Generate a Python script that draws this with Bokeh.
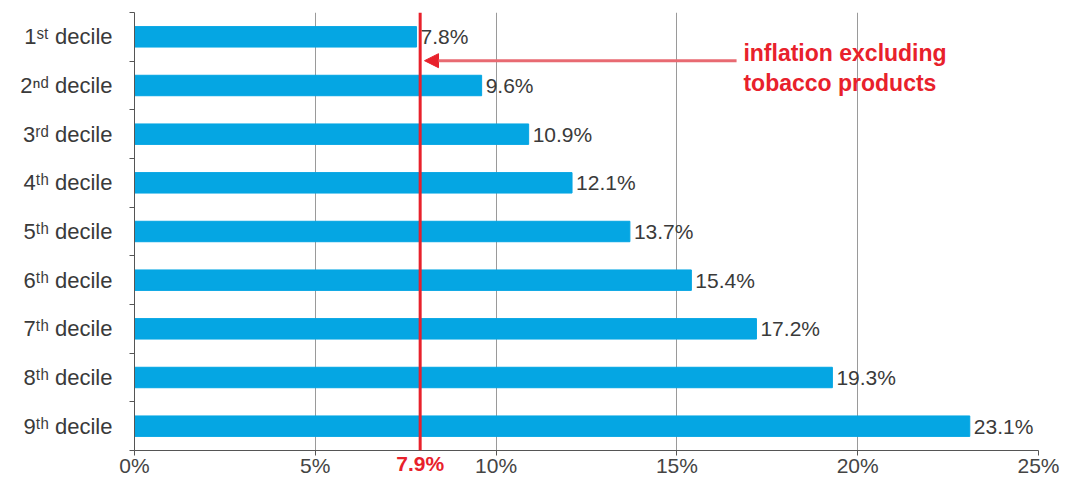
from bokeh.plotting import figure
from bokeh.models import (Range1d, FixedTicker, Label, Arrow, NormalHead, Span,
                          ColumnDataSource, LabelSet, LinearAxis)
from bokeh.core.properties import value
from bokeh.embed import file_html
from bokeh.resources import INLINE

categories = ["1ˢᵗ decile", "2ⁿᵈ decile", "3ʳᵈ decile", "4ᵗʰ decile", "5ᵗʰ decile",
              "6ᵗʰ decile", "7ᵗʰ decile", "8ᵗʰ decile", "9ᵗʰ decile"]
values = [7.8, 9.6, 10.9, 12.1, 13.7, 15.4, 17.2, 19.3, 23.1]
value_labels = ["7.8%", "9.6%", "10.9%", "12.1%", "13.7%", "15.4%", "17.2%", "19.3%", "23.1%"]
x_ticks = [0, 5, 10, 15, 20, 25]
x_tick_labels = ["0%", "5%", "10%", "15%", "20%", "25%"]
reference_value = 7.9
reference_label = "7.9%"
annotation_lines = ["inflation excluding", "tobacco products"]

FONT = "Liberation Sans"
RED = "#e8212b"
BLUE = "#05a6e3"
FS = "21px"

n = len(categories)
ypos = list(range(n))

p = figure(width=1064, height=482, output_backend="svg", toolbar_location=None,
           x_range=Range1d(0, 25), y_range=Range1d(n - 0.5, -0.5),
           min_border_left=134, min_border_right=26, min_border_top=12, min_border_bottom=32)
p.outline_line_color = None

src = ColumnDataSource(dict(y=ypos, v=values, lab=value_labels))
p.hbar(y="y", right="v", left=0, height=0.42, color=BLUE, source=src)

labels = LabelSet(x="v", y="y", text="lab", source=src, x_offset=4, y_offset=0,
                  text_font=value(FONT), text_font_size=FS, text_color="#3a3a3a",
                  text_baseline="middle", text_align="left")
p.add_layout(labels)

# x axis
p.xaxis.ticker = FixedTicker(ticks=x_ticks)
p.xaxis.major_label_overrides = {t: l for t, l in zip(x_ticks, x_tick_labels)}
p.xaxis.major_label_text_font = FONT
p.xaxis.major_label_text_font_size = FS
p.xaxis.major_label_text_color = "#444444"
p.xaxis.axis_line_color = "#555555"
p.xaxis.major_tick_line_color = "#555555"
p.xaxis.major_tick_out = 5
p.xaxis.major_tick_in = 0
p.xaxis.minor_tick_line_color = None
p.xaxis.major_label_standoff = -2

# red reference tick label on a second axis, pulled up to the same row
ref_axis = LinearAxis(ticker=FixedTicker(ticks=[reference_value]),
                      major_label_overrides={reference_value: reference_label},
                      axis_line_color=None, major_tick_line_color=None,
                      minor_tick_line_color=None, major_tick_out=0, major_tick_in=0,
                      major_label_text_font=FONT, major_label_text_font_size=FS,
                      major_label_text_font_style="bold", major_label_text_color=RED,
                      major_label_standoff=-28)
p.add_layout(ref_axis, "below")

# y axis
p.yaxis.ticker = FixedTicker(ticks=ypos, minor_ticks=[i - 0.5 for i in range(n + 1)])
p.yaxis.major_label_overrides = {i: c for i, c in zip(ypos, categories)}
p.yaxis.major_label_text_font = FONT
p.yaxis.major_label_text_font_size = "22px"
p.yaxis.major_label_text_color = "#3a3a3a"
p.yaxis.axis_line_color = "#555555"
p.yaxis.major_tick_line_color = None
p.yaxis.major_tick_out = 0
p.yaxis.minor_tick_line_color = "#555555"
p.yaxis.minor_tick_out = 5
p.yaxis.minor_tick_in = 0
p.yaxis.major_label_standoff = 17

# grid
p.xgrid.ticker = FixedTicker(ticks=x_ticks)
p.xgrid.grid_line_color = "#9a9a9a"
p.xgrid.grid_line_width = 1
p.ygrid.grid_line_color = None

# reference line
p.add_layout(Span(location=reference_value, dimension="height", line_color=RED, line_width=3))

# annotation
p.add_layout(Arrow(end=NormalHead(size=14, fill_color=RED, line_color=RED),
                   x_start=16.65, y_start=0.49, x_end=reference_value + 0.12, y_end=0.49,
                   line_color="#e86a72", line_width=3))
p.add_layout(Label(x=16.84, y=0.33, text=annotation_lines[0], text_font=FONT,
                   text_font_size="23px", text_font_style="bold", text_color=RED,
                   text_baseline="middle", text_align="left"))
p.add_layout(Label(x=16.84, y=0.95, text=annotation_lines[1], text_font=FONT,
                   text_font_size="23px", text_font_style="bold", text_color=RED,
                   text_baseline="middle", text_align="left"))

open("out.html", "w").write(file_html(p, INLINE))
